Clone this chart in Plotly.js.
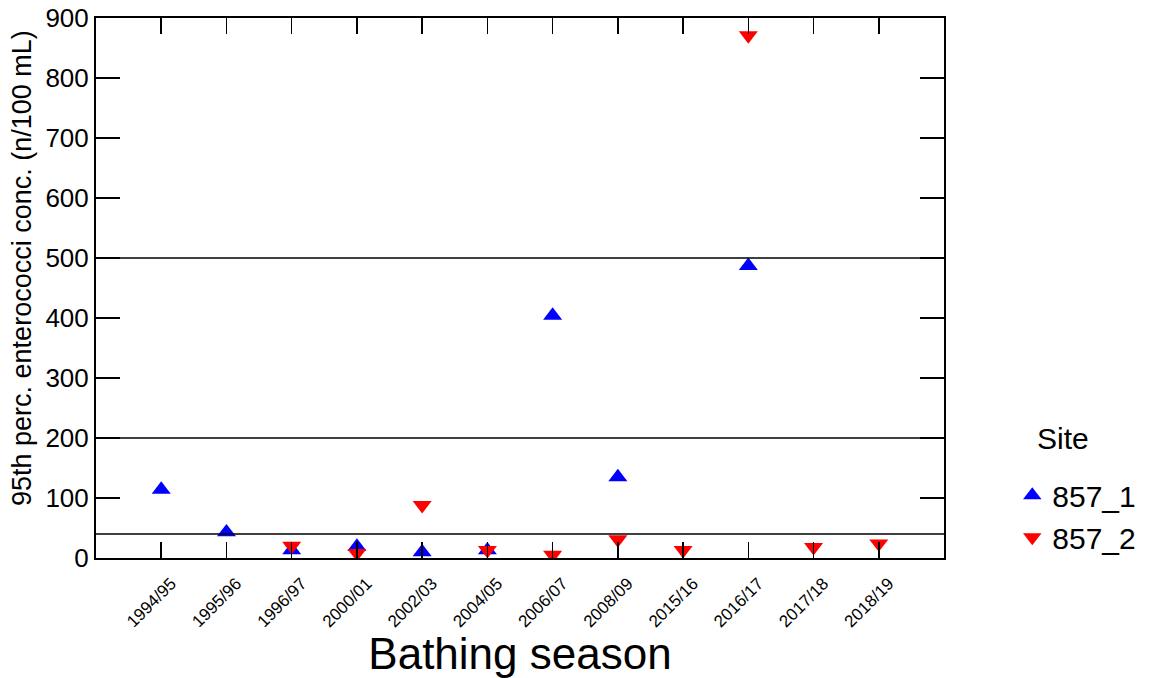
<!DOCTYPE html>
<html>
<head>
<meta charset="utf-8">
<script src="https://cdn.plot.ly/plotly-3.0.1.min.js"></script>
<style>
  html, body { margin: 0; padding: 0; background: #fff; }
  #chart { width: 1149px; height: 678px; }
</style>
</head>
<body>
<div id="chart"></div>
<script>
// Bathing seasons on the x axis
const seasons = ["1994/95", "1995/96", "1996/97", "2000/01", "2002/03", "2004/05",
                 "2006/07", "2008/09", "2015/16", "2016/17", "2017/18", "2018/19"];

// 95th percentile enterococci (n/100 mL) per site; null = no sample that season
const site1Values = [114, 43, 13, 19, 10, 13, 404, 135, null, 487, null, null];
const site2Values = [null, null, 20, 8, 88, 13, 5, 31, 13, 871, 18, 24];

// Guideline threshold lines
const thresholds = [40, 200, 500];
const yTicks = [0, 100, 200, 300, 400, 500, 600, 700, 800, 900];

const font = "Liberation Sans, Arial, sans-serif";

const traces = [
  {
    name: "857_1", x: seasons, y: site1Values, type: "scatter", mode: "markers",
    marker: { symbol: "triangle-up", color: "#0000ff", size: 16.5 }
  },
  {
    name: "857_2", x: seasons, y: site2Values, type: "scatter", mode: "markers",
    marker: { symbol: "triangle-down", color: "#ff0000", size: 16.5 }
  }
];

const shapes = thresholds.map(v => ({
  type: "line", xref: "paper", x0: 0, x1: 1, yref: "y", y0: v, y1: v,
  line: { color: "#000", width: 1.5 }, layer: "above"
}));

// Y-axis title and legend heading placed as free text
const annotations = [
  {
    text: "95th perc. enterococci conc. (n/100 mL)",
    xref: "paper", yref: "paper", x: -0.0873, y: 0.537,
    xanchor: "center", yanchor: "middle", textangle: -90,
    showarrow: false, font: { size: 27 }
  },
  {
    text: "Site",
    xref: "paper", yref: "paper", x: 1.107, y: 0.222,
    xanchor: "left", yanchor: "middle",
    showarrow: false, font: { size: 30 }
  }
];

const layout = {
  width: 1149, height: 678,
  margin: { l: 96, r: 205, t: 18, b: 120 },
  paper_bgcolor: "#fff", plot_bgcolor: "#fff",
  font: { family: font, color: "#000" },
  showlegend: true,
  legend: {
    xref: "container", yref: "container",
    x: 0.881, y: 0.308, xanchor: "left", yanchor: "top",
    font: { size: 30 },
    itemwidth: 30, tracegroupgap: 0
  },
  xaxis: {
    type: "category", categoryorder: "array", categoryarray: seasons,
    range: [-1, 12],
    showgrid: false, zeroline: false,
    showline: true, linecolor: "#000", linewidth: 2, mirror: "ticks",
    ticks: "inside", ticklen: 16, tickwidth: 1.5, tickcolor: "#000",
    tickangle: -45, tickfont: { size: 17 },
    ticklabelshift: 10, ticklabelstandoff: 7,
    title: { text: "Bathing season", font: { size: 44 }, standoff: 28 },
    automargin: false
  },
  yaxis: {
    range: [0, 900], tickvals: yTicks,
    showgrid: false, zeroline: false,
    showline: true, linecolor: "#000", linewidth: 2, mirror: "ticks",
    ticks: "inside", ticklen: 24, tickwidth: 1.5, tickcolor: "#000",
    tickfont: { size: 26 },
    automargin: false
  },
  shapes: shapes,
  annotations: annotations
};

Plotly.newPlot("chart", traces, layout, { displayModeBar: false, staticPlot: true });
</script>
</body>
</html>
